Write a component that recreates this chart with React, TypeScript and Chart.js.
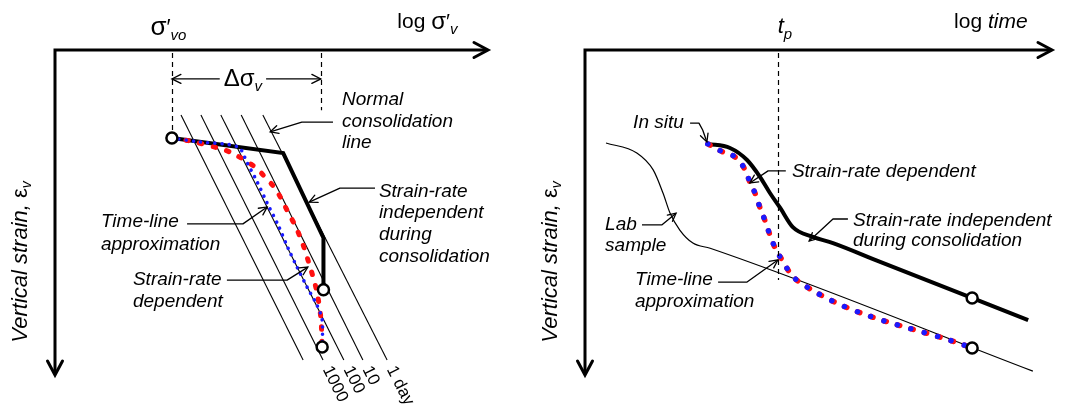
import React, { useEffect, useRef } from "react";
import { Chart, registerables } from "chart.js";

Chart.register(...registerables);

const FONT = "'Liberation Sans', Arial, Helvetica, sans-serif";

// ---------------- Left panel: vertical strain vs log effective stress (schematic units 0–100) ----------------
const leftTimeLineNames = ["", "1000", "100", "10", "1 day"];
const leftTimeLineTopX = [29.1, 33.7, 38.3, 43.0, 48.0];
const leftTimeLineBottomX = [57.3, 61.9, 66.7, 71.1, 76.7];
const leftTimeLineY = [20, 95.4];
const leftNormalConsolidation = [[27, 27.1], [52.7, 31.7], [62.0, 57.8], [62.0, 73.8]];
const leftTimeLineApproximation = [
  [27, 27.1], [33.5, 28.3], [42.3, 29.85], [44.3, 34.5], [46.7, 40.6], [49.0, 47.1], [51.5, 53.8],
  [53.8, 60.9], [55.9, 66.8], [58.2, 72.9], [60.5, 78.5], [61.7, 83.1], [61.7, 91.4],
];
const leftStrainRateDependent = [
  [27, 27.1], [31.2, 28.0], [37.6, 30.15], [40.9, 31.7], [46.2, 36.0], [48.5, 39.1], [50.8, 42.5],
  [52.4, 46.15], [53.8, 49.85], [55.4, 53.85], [56.6, 57.5], [57.7, 61.5], [58.7, 65.85], [59.6, 69.85],
  [60.5, 74.5], [61.4, 82.5], [61.7, 91.4],
];
const leftEndPoints = [[27, 27.1], [62.0, 73.8], [61.7, 91.4]];
const leftStressRange = [27, 61.4]; // σ'vo → σ'vo + Δσv

// ---------------- Right panel: vertical strain vs log time ----------------
const rightInSitu = [
  [26.3, 28.9], [31.05, 30.15], [34.7, 33.85], [37.5, 39.1], [39.6, 44.0], [41.8, 48.6], [44.5, 54.5],
  [48.8, 57.5], [53.1, 59.4], [63.2, 65.2], [94.9, 83.1],
];
const rightLabSample = [
  [4.5, 28.6], [11.1, 31.7], [14.6, 36.9], [16.7, 44.0], [18.2, 50.15], [20.3, 55.4], [23.1, 59.4],
  [26.8, 61.0], [95.9, 98.8],
];
const rightTimeLineApproximation = [
  [26.3, 28.9], [29.55, 31.4], [32.1, 32.9], [34.3, 36.9], [35.3, 40.6], [36.4, 44.0], [37.5, 48.6],
  [38.5, 52.3], [39.6, 56.9], [40.9, 61.5], [42.2, 64.6], [43.9, 68.6], [46.0, 71.5], [82.9, 91.7],
];
const rightEndPoints = [[82.9, 76.3], [82.9, 91.7]];
const rightPreconsolidationTime = 41.3; // t_p

type Pt = number[];
interface Part { t: string; size: number; italic?: boolean; dy?: number }
interface TextSpec { x: number; y: number; parts: Part[]; align?: "left" | "center"; bg?: boolean; rot?: number }
interface Spec {
  texts: TextSpec[];
  leaders: Pt[][];
  dashed: { x: number; y1: number; y2: number }[];
  dim?: { x1: number; x2: number; y: number };
  lineLabels?: { names: string[]; topX: number[]; bottomX: number[]; yRange: number[]; at: number };
}

const LBL = 19;
const it = (t: string, size = LBL): Part => ({ t, size, italic: true });

function fontOf(p: Part) {
  return `${p.italic ? "italic " : ""}${p.size}px ${FONT}`;
}

function drawRich(ctx: CanvasRenderingContext2D, spec: TextSpec, x: number, y: number) {
  ctx.save();
  ctx.translate(x, y);
  if (spec.rot) ctx.rotate(spec.rot);
  ctx.textBaseline = "middle";
  ctx.textAlign = "left";
  const widths = spec.parts.map((p) => {
    ctx.font = fontOf(p);
    return ctx.measureText(p.t).width;
  });
  const total = widths.reduce((a, b) => a + b, 0);
  let cx = spec.align === "center" ? -total / 2 : 0;
  if (spec.bg) {
    const h = Math.max(...spec.parts.map((p) => p.size));
    ctx.fillStyle = "#fff";
    ctx.fillRect(cx - 4, -h / 2 - 2, total + 8, h + 6);
  }
  ctx.fillStyle = "#000";
  spec.parts.forEach((p, i) => {
    ctx.font = fontOf(p);
    ctx.fillText(p.t, cx, p.dy || 0);
    cx += widths[i];
  });
  ctx.restore();
}

function chevron(ctx: CanvasRenderingContext2D, tx: number, ty: number, ang: number, len: number, half: number, lw: number) {
  const c = Math.cos(ang), s = Math.sin(ang);
  const bx = tx - len * c, by = ty - len * s;
  ctx.save();
  ctx.setLineDash([]);
  ctx.lineWidth = lw;
  ctx.lineCap = "round";
  ctx.lineJoin = "miter";
  ctx.beginPath();
  ctx.moveTo(bx - half * s, by + half * c);
  ctx.lineTo(tx, ty);
  ctx.lineTo(bx + half * s, by - half * c);
  ctx.stroke();
  ctx.restore();
}

function makePlugin(spec: Spec) {
  return {
    id: "schematic",
    afterDatasetsDraw(chart: any) {
      const { ctx, chartArea: a, scales } = chart;
      const X = (v: number) => scales.x.getPixelForValue(v);
      const Y = (v: number) => scales.y.getPixelForValue(v);
      ctx.save();
      ctx.strokeStyle = "#000";
      ctx.fillStyle = "#000";

      // axes with arrow heads
      ctx.lineWidth = 3;
      ctx.lineJoin = "miter";
      ctx.lineCap = "butt";
      ctx.beginPath();
      ctx.moveTo(a.right - 2, a.top);
      ctx.lineTo(a.left, a.top);
      ctx.lineTo(a.left, a.bottom - 2);
      ctx.stroke();
      chevron(ctx, a.right, a.top, 0, 14, 7.5, 3);
      chevron(ctx, a.left, a.bottom, Math.PI / 2, 14, 7.5, 3);

      // dashed guides
      ctx.lineWidth = 1.2;
      ctx.setLineDash([5, 4]);
      spec.dashed.forEach((d) => {
        ctx.beginPath();
        ctx.moveTo(Math.round(X(d.x)) + 0.5, Y(d.y1));
        ctx.lineTo(Math.round(X(d.x)) + 0.5, Y(d.y2));
        ctx.stroke();
      });
      ctx.setLineDash([]);

      // dimension arrow
      if (spec.dim) {
        const y = Y(spec.dim.y);
        const x1 = X(spec.dim.x1), x2 = X(spec.dim.x2);
        ctx.lineWidth = 1.3;
        ctx.beginPath();
        ctx.moveTo(x1, y);
        ctx.lineTo(x2, y);
        ctx.stroke();
        chevron(ctx, x1, y, Math.PI, 9, 4.5, 1.3);
        chevron(ctx, x2, y, 0, 9, 4.5, 1.3);
      }

      // leaders
      spec.leaders.forEach((pts) => {
        ctx.lineWidth = 1.3;
        ctx.lineJoin = "round";
        ctx.beginPath();
        pts.forEach((p, i) => (i ? ctx.lineTo(X(p[0]), Y(p[1])) : ctx.moveTo(X(p[0]), Y(p[1]))));
        ctx.stroke();
        const n = pts.length;
        const tx = X(pts[n - 1][0]), ty = Y(pts[n - 1][1]);
        const px = X(pts[n - 2][0]), py = Y(pts[n - 2][1]);
        chevron(ctx, tx, ty, Math.atan2(ty - py, tx - px), 8, 4, 1.3);
      });

      // labels of time lines
      if (spec.lineLabels) {
        const L = spec.lineLabels;
        L.names.forEach((name, i) => {
          if (!name) return;
          const x0 = X(L.topX[i]), y0 = Y(L.yRange[0]);
          const x1 = X(L.bottomX[i]), y1 = Y(L.yRange[1]);
          const ang = Math.atan2(y1 - y0, x1 - x0);
          const t = (L.at - L.yRange[0]) / (L.yRange[1] - L.yRange[0]);
          const ax = X(L.topX[i] + (L.bottomX[i] - L.topX[i]) * t);
          const ay = Y(L.at);
          drawRich(ctx, { x: 0, y: 0, parts: [{ t: name, size: 17 }], rot: ang }, ax, ay);
        });
      }

      // texts
      spec.texts.forEach((t) => drawRich(ctx, t, X(t.x), Y(t.y)));
      ctx.restore();
    },
  };
}

function lineDs(pts: Pt[], style: any) {
  return {
    data: pts.map(([x, y]) => ({ x, y })),
    showLine: true,
    pointRadius: 0,
    pointHoverRadius: 0,
    borderColor: "#000",
    backgroundColor: "#000",
    borderWidth: 1.2,
    fill: false,
    clip: false,
    ...style,
  };
}

function pointDs(pts: Pt[]) {
  return {
    data: pts.map(([x, y]) => ({ x, y })),
    showLine: false,
    pointRadius: 5.5,
    pointHoverRadius: 5.5,
    pointBorderWidth: 2.5,
    pointBorderColor: "#000",
    pointBackgroundColor: "#fff",
    clip: false,
    order: 0,
  };
}

function baseOptions(padding: any) {
  return {
    animation: false,
    responsive: false,
    devicePixelRatio: 1,
    events: [],
    layout: { padding },
    scales: {
      x: { type: "linear", min: 0, max: 100, display: false },
      y: { type: "linear", min: 0, max: 100, reverse: true, display: false },
    },
    plugins: { legend: { display: false }, tooltip: { enabled: false } },
  };
}

const yTitleParts: Part[] = [
  { t: "Vertical strain, ", size: 22, italic: true },
  { t: "ε", size: 22 },
  { t: "v", size: 14, italic: true, dy: 6 },
];

function leftConfig(): any {
  const timeLines = leftTimeLineTopX.map((tx, i) =>
    lineDs([[tx, leftTimeLineY[0]], [leftTimeLineBottomX[i], leftTimeLineY[1]]], { borderWidth: 1.1, order: 6 })
  );
  const spec: Spec = {
    dashed: [
      { x: leftStressRange[0], y1: 0.9, y2: 25.2 },
      { x: leftStressRange[1], y1: 0.9, y2: 18.5 },
    ],
    dim: { x1: leftStressRange[0], x2: leftStressRange[1], y: 8.9 },
    lineLabels: { names: leftTimeLineNames, topX: leftTimeLineTopX, bottomX: leftTimeLineBottomX, yRange: leftTimeLineY, at: 97.6 },
    leaders: [
      [[64.2, 22.2], [57.0, 22.2], [49.7, 25.2]],
      [[73.9, 42.5], [65.8, 42.5], [58.7, 46.8]],
      [[30.5, 53.5], [43.4, 53.5], [49.0, 48.3]],
      [[39.7, 70.8], [53.6, 70.8], [58.4, 66.8]],
    ],
    texts: [
      { x: 26.2, y: -6.8, align: "center", parts: [{ t: "σ", size: 26 }, { t: "′", size: 22 }, { t: "vo", size: 15, italic: true, dy: 8 }] },
      { x: 86.0, y: -8.6, align: "center", parts: [{ t: "log ", size: 21 }, { t: "σ", size: 24 }, { t: "′", size: 21 }, { t: "v", size: 15, italic: true, dy: 8 }] },
      { x: 43.4, y: 8.9, align: "center", bg: true, parts: [{ t: "Δσ", size: 24 }, { t: "v", size: 15, italic: true, dy: 8 }] },
      { x: 66.3, y: 15.4, parts: [it("Normal")] },
      { x: 66.3, y: 22.2, parts: [it("consolidation")] },
      { x: 66.3, y: 28.6, parts: [it("line")] },
      { x: 74.8, y: 43.7, parts: [it("Strain-rate")] },
      { x: 74.8, y: 50.2, parts: [it("independent")] },
      { x: 74.8, y: 56.9, parts: [it("during")] },
      { x: 74.8, y: 63.7, parts: [it("consolidation")] },
      { x: 10.6, y: 52.9, parts: [it("Time-line")] },
      { x: 10.6, y: 60.0, parts: [it("approximation")] },
      { x: 18.0, y: 70.8, parts: [it("Strain-rate")] },
      { x: 18.0, y: 77.5, parts: [it("dependent")] },
      { x: -7.9, y: 65.2, align: "center", rot: -Math.PI / 2, parts: yTitleParts },
    ],
  };
  return {
    type: "scatter",
    data: {
      datasets: [
        pointDs(leftEndPoints),
        lineDs(leftTimeLineApproximation, { borderColor: "#1a1aff", borderWidth: 3.6, borderDash: [0.01, 7.2], borderCapStyle: "round", tension: 0.3, order: 1 }),
        lineDs(leftStrainRateDependent, { borderColor: "#ff1010", borderWidth: 5, borderDash: [2.5, 11.5], borderCapStyle: "round", tension: 0.3, order: 2 }),
        lineDs(leftNormalConsolidation, { borderWidth: 4, order: 3, borderJoinStyle: "miter" }),
        ...timeLines,
      ],
    },
    options: baseOptions({ left: 55, right: 48, top: 50, bottom: 29 }),
    plugins: [makePlugin(spec)],
  };
}

function rightConfig(): any {
  const spec: Spec = {
    dashed: [{ x: rightPreconsolidationTime, y1: 0.9, y2: 70.8 }],
    leaders: [
      [[22.5, 22.5], [24.4, 22.5], [25.2, 24.6], [26.1, 28.3]],
      [[43.0, 37.2], [39.2, 37.2], [35.3, 40.9]],
      [[12.2, 53.8], [16.5, 53.8], [19.5, 50.2]],
      [[28.5, 71.4], [34.7, 71.4], [41.3, 64.6]],
      [[56.3, 52.0], [53.1, 52.0], [48.0, 58.8]],
    ],
    texts: [
      { x: 42.8, y: -7.1, align: "center", parts: [{ t: "t", size: 22, italic: true }, { t: "p", size: 15, italic: true, dy: 8 }] },
      { x: 86.9, y: -8.6, align: "center", parts: [{ t: "log ", size: 21 }, { t: "time", size: 21, italic: true }] },
      { x: 10.3, y: 22.5, parts: [it("In situ")] },
      { x: 44.3, y: 37.5, parts: [it("Strain-rate dependent")] },
      { x: 4.3, y: 53.8, parts: [it("Lab")] },
      { x: 4.3, y: 60.3, parts: [it("sample")] },
      { x: 10.7, y: 70.8, parts: [it("Time-line")] },
      { x: 10.7, y: 77.5, parts: [it("approximation")] },
      { x: 57.4, y: 52.6, parts: [it("Strain-rate independent")] },
      { x: 57.4, y: 58.8, parts: [it("during consolidation")] },
      { x: -7.3, y: 65.2, align: "center", rot: -Math.PI / 2, parts: yTitleParts },
    ],
  };
  return {
    type: "scatter",
    data: {
      datasets: [
        pointDs(rightEndPoints),
        lineDs(rightTimeLineApproximation, { borderColor: "#1a1aff", borderWidth: 5.5, borderDash: [0.01, 13.99], borderCapStyle: "round", cubicInterpolationMode: "monotone", order: 1 }),
        lineDs(rightTimeLineApproximation, { borderColor: "#ff1010", borderWidth: 5.5, borderDash: [2.5, 11.5], borderCapStyle: "round", cubicInterpolationMode: "monotone", order: 2 }),
        lineDs(rightInSitu, { borderWidth: 4, cubicInterpolationMode: "monotone", order: 3 }),
        lineDs(rightLabSample, { borderWidth: 1.2, cubicInterpolationMode: "monotone", order: 4 }),
      ],
    },
    options: baseOptions({ left: 49, right: 21, top: 50, bottom: 29 }),
    plugins: [makePlugin(spec)],
  };
}

function Panel({ make, left, width }: { make: () => any; left: number; width: number }) {
  const ref = useRef<HTMLCanvasElement>(null);
  useEffect(() => {
    const chart = new Chart(ref.current as HTMLCanvasElement, make());
    return () => chart.destroy();
  }, []);
  return (
    <canvas
      ref={ref}
      width={width}
      height={404}
      style={{ position: "absolute", left, top: 0, width, height: 404, display: "block" }}
    />
  );
}

export default function App() {
  return (
    <div style={{ position: "absolute", left: 0, top: 0, width: 1073, height: 404, background: "#fff", overflow: "hidden" }}>
      <Panel make={leftConfig} left={0} width={536} />
      <Panel make={rightConfig} left={536} width={537} />
    </div>
  );
}
